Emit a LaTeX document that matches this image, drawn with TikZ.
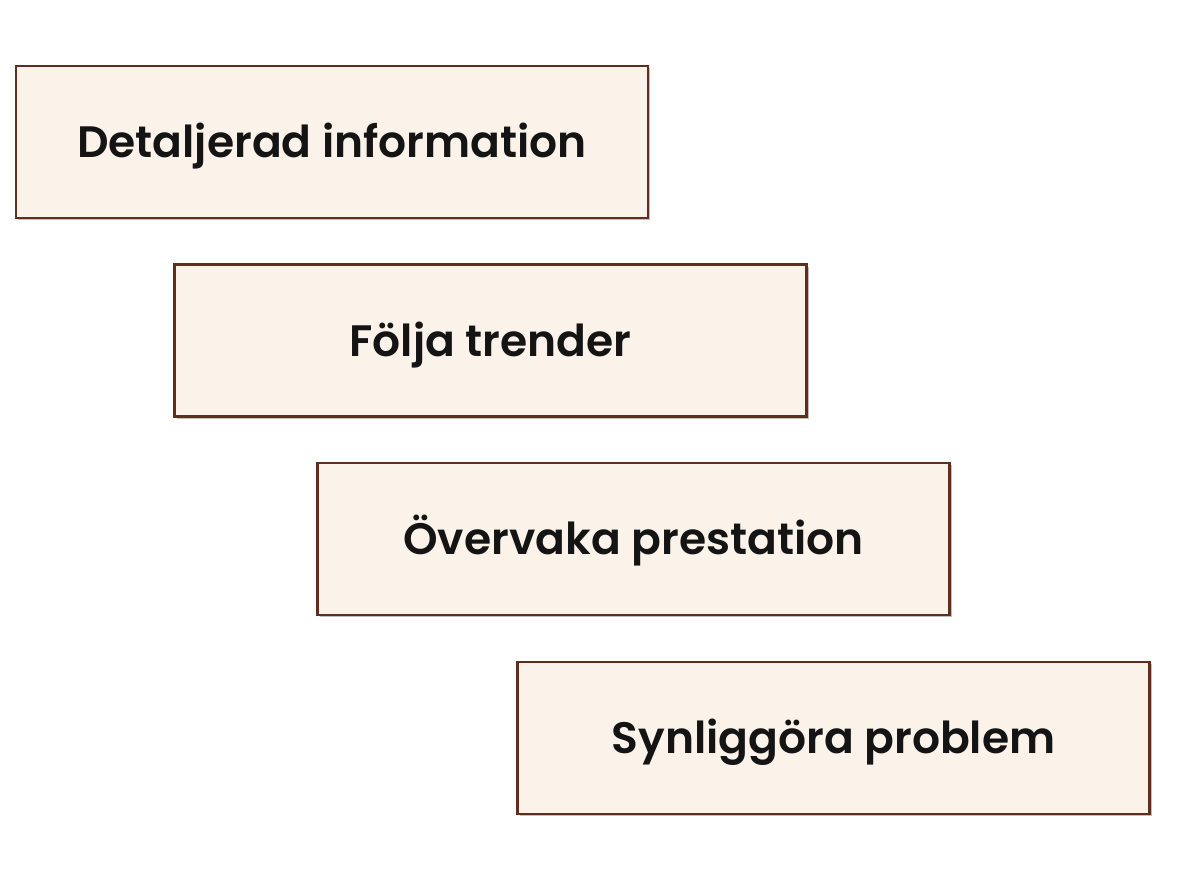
\documentclass[tikz,border=0pt]{standalone}
\usepackage{fontspec}
\setmainfont{Poppins}[BoldFont={* SemiBold}]
\usetikzlibrary{shadows}
\definecolor{boxfill}{HTML}{FBF3EA}
\definecolor{boxline}{HTML}{5E2F1C}
\definecolor{txt}{HTML}{141414}
\begin{document}
\begin{tikzpicture}[x=1pt,y=-1pt,
  stepbox/.style={draw=boxline, line width=2.2pt, fill=boxfill, minimum width=632pt, minimum height=152pt, inner sep=0pt,
    font=\fontsize{44}{50}\selectfont\bfseries, text=txt, text height=31pt, text depth=0pt,
    drop shadow={shadow xshift=2pt, shadow yshift=-2pt, fill=black, opacity=0.25}}]
\useasboundingbox[fill=white] (0,0) rectangle (1193,896);
\node[stepbox] (a) at (332,142) {Detaljerad information};
\node[stepbox] (b) at (490.5,340.5) {Följa trender};
\node[stepbox] (c) at (633.5,539) {Övervaka prestation};
\node[stepbox] (d) at (833.5,738) {Synliggöra problem};
\end{tikzpicture}
\end{document}
